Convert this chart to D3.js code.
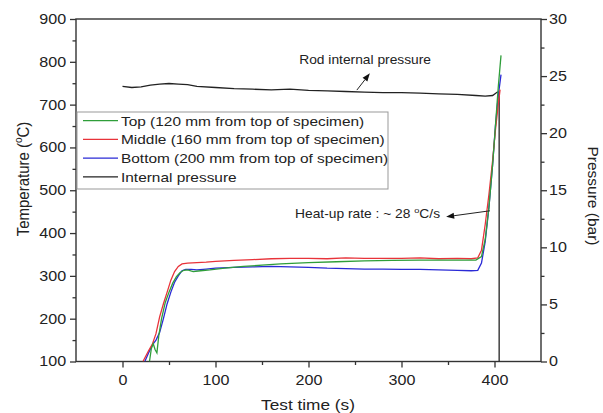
<!DOCTYPE html>
<html><head><meta charset="utf-8">
<script src="https://cdn.jsdelivr.net/npm/d3@7"></script>
<style>
body{margin:0;background:#fff}
svg{display:block}
text{font-family:"Liberation Sans",Arial,sans-serif;fill:#222}
</style>
</head><body>
<svg id="c" width="603" height="413"></svg>
<script>
// ---------------- data ----------------
const xTicks = [0, 100, 200, 300, 400];
const xMinor = [50, 150, 250, 350];
const tTicks = [100, 200, 300, 400, 500, 600, 700, 800, 900];
const tMinor = [150, 250, 350, 450, 550, 650, 750, 850];
const pTicks = [0, 5, 10, 15, 20, 25, 30];
const pMinor = [2.5, 7.5, 12.5, 17.5, 22.5, 27.5];

// Top (green)
const timeTop = [29, 31, 33, 35, 37, 39, 42, 46, 50, 54, 58, 62, 66, 70, 76, 84, 94, 110, 130, 150, 170, 200, 230, 260, 290, 320, 350, 370, 380, 386, 390, 394, 398, 401, 404, 407];
const tempTop = [100, 130, 142, 128, 120, 160, 200, 238, 262, 283, 298, 308, 313, 314, 310, 312, 314, 318, 322, 325, 328, 331, 333, 335, 336, 337, 337, 337, 337, 345, 385, 460, 560, 650, 740, 815];
// Middle (red)
const timeMid = [22, 28, 32, 36, 40, 44, 48, 52, 56, 60, 64, 70, 80, 90, 100, 120, 140, 160, 180, 200, 220, 240, 260, 280, 300, 320, 340, 360, 375, 382, 386, 390, 394, 398, 401, 404, 406];
const tempMid = [100, 125, 140, 165, 205, 235, 262, 290, 310, 322, 328, 330, 331, 332, 334, 336, 338, 340, 341, 341, 340, 342, 341, 341, 341, 342, 340, 341, 340, 342, 360, 420, 490, 570, 640, 700, 735];
// Bottom (blue)
const timeBot = [24, 28, 32, 36, 40, 44, 48, 52, 56, 60, 64, 68, 74, 80, 90, 100, 120, 140, 160, 180, 200, 220, 240, 260, 280, 300, 320, 340, 360, 375, 382, 386, 390, 394, 398, 401, 404, 407];
const tempBot = [100, 120, 138, 150, 168, 200, 235, 262, 285, 300, 312, 315, 315, 314, 316, 318, 320, 321, 322, 321, 320, 318, 317, 316, 316, 315, 315, 314, 313, 312, 313, 330, 380, 460, 560, 650, 720, 770];
// Internal pressure (black)
const timeP = [0, 10, 20, 30, 40, 50, 60, 70, 80, 100, 120, 140, 160, 180, 200, 220, 240, 260, 280, 300, 320, 340, 360, 380, 390, 398, 403, 405, 405];
const pres  = [24.1, 24.0, 24.05, 24.2, 24.3, 24.35, 24.3, 24.25, 24.1, 24.0, 23.9, 23.85, 23.8, 23.85, 23.75, 23.7, 23.65, 23.6, 23.55, 23.55, 23.5, 23.45, 23.4, 23.3, 23.25, 23.3, 23.6, 23.6, 0];

const legendLabels = ["Top (120 mm from top of specimen)", "Middle (160 mm from top of specimen)", "Bottom (200 mm from top of specimen)", "Internal pressure"];
const colors = ["#2f9e3a", "#e8333a", "#2a2ad6", "#222222"];

// ---------------- chart ----------------
const svg = d3.select("#c");
const SX = 1.15; // horizontal text stretch seen in reference
const L = 76, R = 541, T = 19, B = 361.5;
const x = d3.scaleLinear().domain([-50, 450]).range([L, R]);
const yT = d3.scaleLinear().domain([100, 900]).range([B, T]);
const yP = d3.scaleLinear().domain([0, 30]).range([B, T]);

svg.append("defs").append("clipPath").attr("id", "clip")
  .append("rect").attr("x", L).attr("y", T).attr("width", R - L).attr("height", B - T);

const axisCol = "#333";
function styleAxis(g) {
  g.select(".domain").remove();
  g.selectAll("line").attr("stroke", axisCol).attr("stroke-width", 1.3);
  g.selectAll("text").style("font-size", "14px").attr("fill", "#222")
    .attr("transform", `scale(${SX},1)`);
}
// bottom
svg.append("g").attr("transform", `translate(0,${B})`)
  .call(d3.axisBottom(x).tickValues(xTicks).tickSize(6).tickPadding(8).tickSizeOuter(0)).call(styleAxis);
svg.append("g").attr("transform", `translate(0,${B})`)
  .call(d3.axisBottom(x).tickValues(xMinor).tickSize(3.5).tickFormat("")).call(styleAxis);
// left
svg.append("g").attr("transform", `translate(${L},0)`)
  .call(d3.axisLeft(yT).tickValues(tTicks).tickSize(6).tickPadding(2.5)).call(styleAxis);
svg.append("g").attr("transform", `translate(${L},0)`)
  .call(d3.axisLeft(yT).tickValues(tMinor).tickSize(3.5).tickFormat("")).call(styleAxis);
// right
svg.append("g").attr("transform", `translate(${R},0)`)
  .call(d3.axisRight(yP).tickValues(pTicks).tickSize(6).tickPadding(1)).call(styleAxis);
svg.append("g").attr("transform", `translate(${R},0)`)
  .call(d3.axisRight(yP).tickValues(pMinor).tickSize(3.5).tickFormat("")).call(styleAxis);

// frame
svg.append("rect").attr("x", L).attr("y", T).attr("width", R - L).attr("height", B - T)
  .attr("fill", "none").attr("stroke", axisCol).attr("stroke-width", 1.4);

// lines
const plot = svg.append("g").attr("clip-path", "url(#clip)");
const lineT = d3.line().x(d => x(d[0])).y(d => yT(d[1]));
const lineP = d3.line().x(d => x(d[0])).y(d => yP(d[1]));
const zip = (a, b) => a.map((v, i) => [v, b[i]]);

plot.append("path").attr("d", lineP(zip(timeP, pres))).attr("fill", "none").attr("stroke", colors[3]).attr("stroke-width", 1.3);
plot.append("path").attr("d", lineT(zip(timeBot, tempBot))).attr("fill", "none").attr("stroke", colors[2]).attr("stroke-width", 1.3);
plot.append("path").attr("d", lineT(zip(timeMid, tempMid))).attr("fill", "none").attr("stroke", colors[1]).attr("stroke-width", 1.3);
plot.append("path").attr("d", lineT(zip(timeTop, tempTop))).attr("fill", "none").attr("stroke", colors[0]).attr("stroke-width", 1.3);

// legend
const lg = svg.append("g");
lg.append("rect").attr("x", 77).attr("y", 112).attr("width", 311).attr("height", 77)
  .attr("fill", "#fff").attr("stroke", "#999").attr("stroke-width", 1);
legendLabels.forEach((lab, i) => {
  const yy = 120.7 + i * 18.7;
  lg.append("line").attr("x1", 83).attr("x2", 118).attr("y1", yy).attr("y2", yy)
    .attr("stroke", colors[i]).attr("stroke-width", 1.3);
  lg.append("text").attr("transform", `translate(121,${yy + 4.8}) scale(${SX},1)`)
    .style("font-size", "13.4px").text(lab);
});

// axis titles
const tt = svg.append("text").attr("text-anchor", "middle")
  .attr("transform", `translate(29,179) rotate(-90) scale(1,${SX})`).style("font-size", "15px");
tt.append("tspan").text("Temperature (");
tt.append("tspan").text("o").style("font-size", "10px").attr("dy", "-6");
tt.append("tspan").text("C)").attr("dy", "6");

svg.append("text").attr("text-anchor", "middle")
  .attr("transform", `translate(588,196) rotate(90)`).style("font-size", "15.5px")
  .text("Pressure (bar)");

svg.append("text").attr("text-anchor", "middle")
  .attr("transform", `translate(308,409.5) scale(${SX},1)`).style("font-size", "15px")
  .text("Test time (s)");

// annotations
svg.append("text").attr("transform", `translate(${x(190)},${yT(796)}) scale(${SX},1)`)
  .style("font-size", "12px").text("Rod internal pressure");

const ht = svg.append("text").attr("transform", `translate(${x(185.5)},${yT(436)}) scale(${SX},1)`)
  .style("font-size", "12px");
ht.append("tspan").text("Heat-up rate : ~ 28 ");
ht.append("tspan").text("o").style("font-size", "8px").attr("dy", "-5");
ht.append("tspan").text("C/s").attr("dy", "5");

function arrow(t0, v0, t1, v1) {
  const x0 = x(t0), y0 = yT(v0), x1 = x(t1), y1 = yT(v1);
  const a = Math.atan2(y1 - y0, x1 - x0);
  const len = 8, w = 3;
  const bx = x1 - len * Math.cos(a), by = y1 - len * Math.sin(a);
  svg.append("line").attr("x1", x0).attr("y1", y0).attr("x2", bx).attr("y2", by)
    .attr("stroke", "#222").attr("stroke-width", 1);
  const p = [[x1, y1],
    [bx + w * Math.sin(a), by - w * Math.cos(a)],
    [bx - w * Math.sin(a), by + w * Math.cos(a)]];
  svg.append("path").attr("d", "M" + p.join("L") + "Z").attr("fill", "#111");
}
arrow(252, 734, 266, 773);
arrow(395, 452, 348, 438);
</script>
</body></html>
